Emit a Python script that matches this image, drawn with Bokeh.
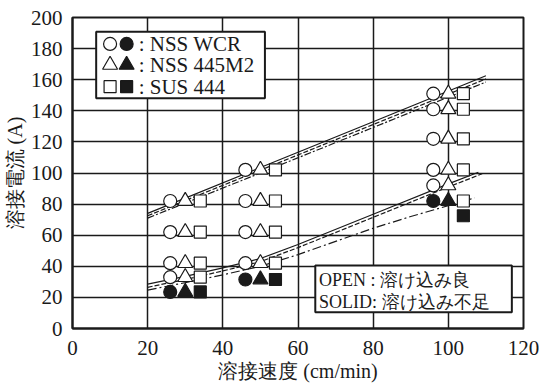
from bokeh.plotting import figure
from bokeh.models import Range1d, SingleIntervalTicker
from bokeh.core.properties import value
from bokeh.embed import file_html
from bokeh.resources import INLINE

# ---- data ----
wcr_open_x = [26, 26, 26, 26, 46, 46, 46, 46, 96, 96, 96, 96, 96]
wcr_open_y = [82, 62, 42, 33, 102, 82, 62, 42, 151, 141, 122, 102, 92]
wcr_solid_x = [26, 46, 96]
wcr_solid_y = [23.5, 31.5, 82]

m2_open_x = [30, 30, 30, 30, 50, 50, 50, 50, 100, 100, 100, 100, 100]
m2_open_y = [82, 62, 42, 33, 102, 82, 62, 42, 151, 141, 122, 102, 92]
m2_solid_x = [30, 50, 100]
m2_solid_y = [23.5, 31.5, 82]

sus_open_x = [34, 34, 34, 34, 54, 54, 54, 54, 104, 104, 104, 104, 104]
sus_open_y = [82, 62, 42, 33, 102, 82, 62, 42, 151, 141, 122, 102, 82]
sus_solid_x = [34, 54, 104]
sus_solid_y = [23.5, 31.5, 72.5]

# boundary lines (upper and lower limits)
up_x = [20, 50, 80, 110]
up_solid_y = [74, 103.5, 133, 162.5]
up_dash_y = [72.5, 101.8, 131.2, 160.5]
up_dashdot_y = [71, 100, 129.3, 158.5]

lo_solid_x = [20, 30, 40, 50, 60, 80, 100, 108]
lo_solid_y = [28.5, 33.5, 39, 45, 54, 73.5, 93, 100.5]
lo_dash_x = [20, 30, 40, 50, 60, 80, 100, 109]
lo_dash_y = [26.5, 31.5, 37, 43, 52, 71.5, 91, 99.5]
lo_dashdot_x = [20, 30, 40, 50, 60, 80, 90, 100, 107]
lo_dashdot_y = [24.7, 29.5, 34.5, 40, 47.5, 64.5, 72, 79, 84]

series_names = ["NSS WCR", "NSS 445M2", "SUS 444"]
series_markers = ["circle", "triangle", "square"]
note_lines = ["OPEN : 溶け込み良", "SOLID: 溶け込み不足"]

x_ticks_interval = 20
y_ticks_interval = 20

SERIF = "Liberation Serif"
INK = "#1a1a1a"

p = figure(frame_width=451, frame_height=311,
           x_range=Range1d(0, 120), y_range=Range1d(0, 200),
           output_backend="svg", toolbar_location=None,
           min_border_left=63, min_border_right=17,
           min_border_top=17, min_border_bottom=59,
           background_fill_color="white", border_fill_color="white")

p.outline_line_color = INK
p.outline_line_width = 2
for ax in (p.xaxis, p.yaxis):
    ax.axis_line_color = INK
    ax.axis_line_width = 2
    ax.major_tick_in = 0
    ax.major_tick_out = 0
    ax.minor_tick_line_color = None
    ax.major_label_text_font = SERIF
    ax.major_label_text_font_size = "21px"
    ax.major_label_text_color = INK
    ax.axis_label_text_font = SERIF
    ax.axis_label_text_font_size = "20px"
    ax.axis_label_text_font_style = "normal"
    ax.axis_label_text_color = INK

p.xaxis.ticker = SingleIntervalTicker(interval=x_ticks_interval)
p.yaxis.ticker = SingleIntervalTicker(interval=y_ticks_interval)
p.xaxis.axis_label = "溶接速度 (cm/min)"
p.yaxis.axis_label = "溶接電流 (A)"
p.xaxis.major_label_standoff = 8
p.yaxis.major_label_standoff = 6
p.xaxis.axis_label_standoff = 2
p.yaxis.axis_label_standoff = 2

for g in (p.xgrid, p.ygrid):
    g.grid_line_color = INK
    g.grid_line_width = 1.5
    g.grid_line_alpha = 1.0

# boundary lines
lw = 1.2
p.line(up_x, up_solid_y, line_color=INK, line_width=lw)
p.line(up_x, up_dash_y, line_color=INK, line_width=lw, line_dash="5 2")
p.line(up_x, up_dashdot_y, line_color=INK, line_width=lw, line_dash="7 2 2 2")
p.line(lo_solid_x, lo_solid_y, line_color=INK, line_width=lw)
p.line(lo_dash_x, lo_dash_y, line_color=INK, line_width=lw, line_dash="5 2")
p.line(lo_dashdot_x, lo_dashdot_y, line_color=INK, line_width=lw, line_dash="9 3 2 3")

sizes = {"circle": 13, "triangle": 15, "square": 12}
open_sets = [(wcr_open_x, wcr_open_y), (m2_open_x, m2_open_y), (sus_open_x, sus_open_y)]
solid_sets = [(wcr_solid_x, wcr_solid_y), (m2_solid_x, m2_solid_y), (sus_solid_x, sus_solid_y)]

for (ox, oy), (sx, sy), mk in zip(open_sets, solid_sets, series_markers):
    p.scatter(ox, oy, marker=mk, size=sizes[mk], fill_color="white",
              line_color=INK, line_width=1.2)
    p.scatter(sx, sy, marker=mk, size=sizes[mk], fill_color=INK,
              line_color=INK, line_width=1.2)

# legend box (series)
p.quad(left=[6.3], right=[51.2], bottom=[148], top=[190.9],
       fill_color="white", line_color=INK, line_width=2)
leg_rows = [183, 169.5, 155.5]
for name, mk, yy in zip(series_names, series_markers, leg_rows):
    p.scatter([10.0], [yy], marker=mk, size=sizes[mk], fill_color="white",
              line_color=INK, line_width=1.2)
    p.scatter([14.4], [yy], marker=mk, size=sizes[mk], fill_color=INK,
              line_color=INK, line_width=1.2)
    p.text([17.6], [yy], text=[": " + name], text_font=value(SERIF),
           text_font_size="21px", text_baseline="middle", text_align="left",
           text_color=INK)

# note box
p.quad(left=[64.6], right=[116.9], bottom=[10.5], top=[40.5],
       fill_color="white", line_color=INK, line_width=2)
for txt, yy in zip(note_lines, [31, 17]):
    p.text([65.6], [yy], text=[txt], text_font=value(SERIF),
           text_font_size="18px", text_baseline="middle", text_align="left",
           text_color=INK)

open("out.html", "w").write(file_html(p, INLINE))
